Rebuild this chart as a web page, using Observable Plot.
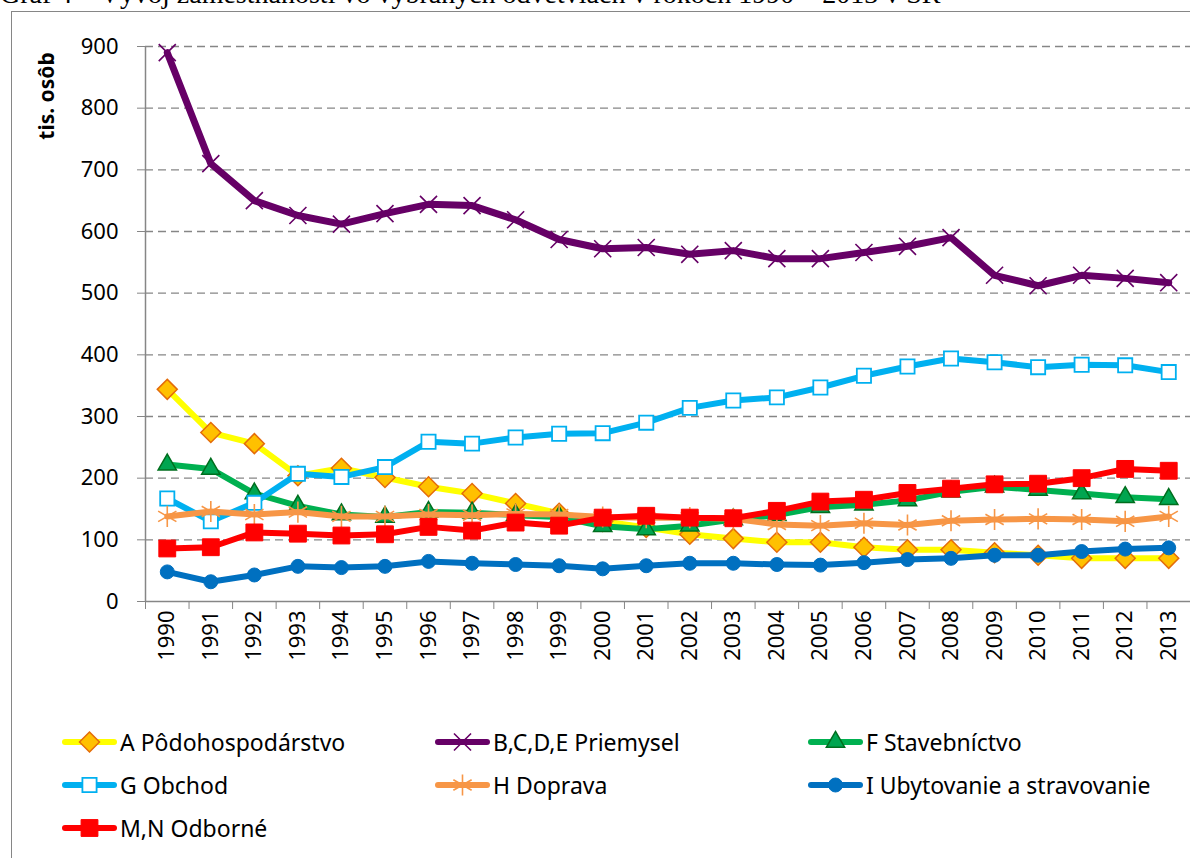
<!DOCTYPE html>
<html><head><meta charset="utf-8">
<script src="https://cdn.jsdelivr.net/npm/d3@7"></script>
<script src="https://cdn.jsdelivr.net/npm/@observablehq/plot@0.6"></script>
<style>
body{margin:0;background:#fff;width:1190px;height:858px;overflow:hidden;position:relative;font-family:"Noto Sans",sans-serif;color:#000;}
#title{position:absolute;left:0;top:-20px;font-family:"Liberation Serif",serif;font-size:28px;line-height:28px;white-space:nowrap;}
#frame{position:absolute;left:11px;top:11px;width:1300px;height:1000px;border-left:1.5px solid #868686;border-top:1.5px solid #868686;}
#chart{position:absolute;left:0;top:0;}
#ylabel{position:absolute;left:46px;top:96px;transform:translate(-50%,-50%) rotate(-90deg);font-weight:bold;font-size:21px;white-space:nowrap;}
.leg{position:absolute;display:flex;align-items:center;height:30px;font-size:23px;white-space:nowrap;}
.leg svg{margin-right:3px;}
</style></head>
<body>
<div id="title">Graf 4 – Vývoj zamestnanosti vo vybraných odvetviach v rokoch 1990 – 2013 v SR</div>
<div id="frame"></div>
<div id="chart"></div>
<div id="ylabel">tis. osôb</div>
<div id="legend"></div>
<script>
const years = [1990,1991,1992,1993,1994,1995,1996,1997,1998,1999,2000,2001,2002,2003,2004,2005,2006,2007,2008,2009,2010,2011,2012,2013];
const seriesNames = ["A Pôdohospodárstvo","B,C,D,E Priemysel","F Stavebníctvo","G Obchod","H Doprava","I Ubytovanie a stravovanie","M,N Odborné"];
const valA = [344,274,256,204,216,201,186,175,159,143,130,120,109,102,96,96,88,84,84,79,75,70,70,70];
const valB = [890,710,650,626,612,629,644,642,619,587,572,574,563,569,556,556,566,576,590,529,512,529,524,517];
const valF = [222,215,175,155,141,137,145,144,140,137,122,117,123,133,140,153,157,164,178,186,181,175,169,166];
const valG = [167,130,160,207,202,218,259,256,266,272,273,290,314,326,331,347,366,381,394,388,380,384,383,372];
const valH = [138,146,141,145,138,138,141,140,142,141,137,136,136,134,125,123,127,124,131,133,134,133,130,138];
const valI = [48,32,43,57,55,57,65,62,60,58,53,58,62,62,60,59,63,68,70,75,75,81,85,87];
const valM = [86,88,112,110,107,109,121,115,128,123,136,139,136,135,147,162,165,176,183,190,191,200,215,212];
const yTicks = [0,100,200,300,400,500,600,700,800,900];

const values = [valA,valB,valF,valG,valH,valI,valM];
const styles = [
  {line:"#FFFF00", w:6, symbol:"diamond2", r:9, fill:"#FFC000", stroke:"#E46C0A", sw:1.5},
  {line:"#660066", w:7, symbol:"times", r:7.8, fill:"none", stroke:"#660066", sw:1.6},
  {line:"#00B050", w:6, symbol:"triangle", r:6.8, fill:"#00A550", stroke:"#006E1E", sw:1.5},
  {line:"#00B0F0", w:6, symbol:"square", r:8, fill:"#fff", stroke:"#00B0F0", sw:1.8},
  {line:"#F79646", w:6, symbol:"asterisk", r:10, fill:"none", stroke:"#F79646", sw:1.6},
  {line:"#0070C0", w:6, symbol:"circle", r:7, fill:"#0070C0", stroke:"#0070C0", sw:1},
  {line:"#FF0000", w:6, symbol:"square", r:9.5, fill:"#FF0000", stroke:"#FF0000", sw:1}
];
const bounds = years.map(y => y - 0.5).concat([years[years.length-1] + 0.5]);
const data = seriesNames.map((name, i) => years.map((yr, j) => ({series: name, year: yr, value: values[i][j]})));

const marks = [
  Plot.ruleY(yTicks.filter(d => d > 0), {x1: bounds[0], x2: bounds[bounds.length-1], stroke:"#868686", strokeWidth:1.3, strokeDasharray:"8,5"}),
  Plot.ruleY([yTicks[0]], {x1: bounds[0], x2: bounds[bounds.length-1], stroke:"#868686", strokeWidth:1.5}),
  Plot.ruleX([bounds[0]], {y1: yTicks[0], y2: yTicks[yTicks.length-1], stroke:"#868686", strokeWidth:1.5}),
  Plot.axisY({ticks: yTicks, tickSize: 8, tickPadding: 19, stroke:"#868686", fill:"#000", fontSize: 22, label: null}),
  Plot.axisX({ticks: bounds, tickSize: 8, tickFormat: () => "", stroke:"#868686", label: null}),
  Plot.axisX({ticks: years, tickSize: 0, tickPadding: 9, tickRotate: -90, tickFormat: d => String(d), fontSize: 22, fill:"#000", label: null})
];
data.forEach((d, i) => {
  const s = styles[i];
  marks.push(Plot.lineY(d, {x:"year", y:"value", stroke: s.line, strokeWidth: s.w, strokeLinejoin:"round", strokeLinecap:"round"}));
  marks.push(Plot.dot(d, {x:"year", y:"value", symbol: () => s.symbol, r: s.r, fill: s.fill, stroke: s.stroke, strokeWidth: s.sw}));
});

const chart = Plot.plot({
  width: 1190, height: 680,
  marginLeft: 145, marginRight: 0, marginTop: 46, marginBottom: 79,
  style: {fontFamily: "'Noto Sans', sans-serif", fontSize: "22px", background: "transparent", overflow: "visible", color: "#000"},
  x: {type: "linear", domain: [bounds[0], bounds[bounds.length-1]], axis: null},
  y: {domain: [yTicks[0], yTicks[yTicks.length-1]], axis: null},
  symbol: {type: "identity"},
  marks
});
document.getElementById("chart").appendChild(chart);

// legend
const symMap = {diamond2: d3.symbolDiamond2, times: d3.symbolTimes, triangle: d3.symbolTriangle, square: d3.symbolSquare, asterisk: d3.symbolAsterisk, circle: d3.symbolCircle};
const colX = [62, 435, 808];
const rowY = [742, 785, 828];
const legend = document.getElementById("legend");
seriesNames.forEach((name, i) => {
  const s = styles[i];
  const col = i % 3, row = Math.floor(i / 3);
  const div = document.createElement("div");
  div.className = "leg";
  div.style.left = colX[col] + "px";
  div.style.top = (rowY[row] - 15) + "px";
  const svg = d3.create("svg").attr("width", 55).attr("height", 30);
  svg.append("line").attr("x1", 3).attr("x2", 52).attr("y1", 15).attr("y2", 15)
    .attr("stroke", s.line).attr("stroke-width", 6).attr("stroke-linecap", "round");
  const size = Math.PI * s.r * s.r;
  svg.append("path").attr("transform", "translate(27.5,15)")
    .attr("d", d3.symbol(symMap[s.symbol], size)())
    .attr("fill", s.fill).attr("stroke", s.stroke).attr("stroke-width", s.sw);
  div.appendChild(svg.node());
  const span = document.createElement("span");
  span.textContent = name;
  div.appendChild(span);
  legend.appendChild(div);
});
</script>
</body></html>
